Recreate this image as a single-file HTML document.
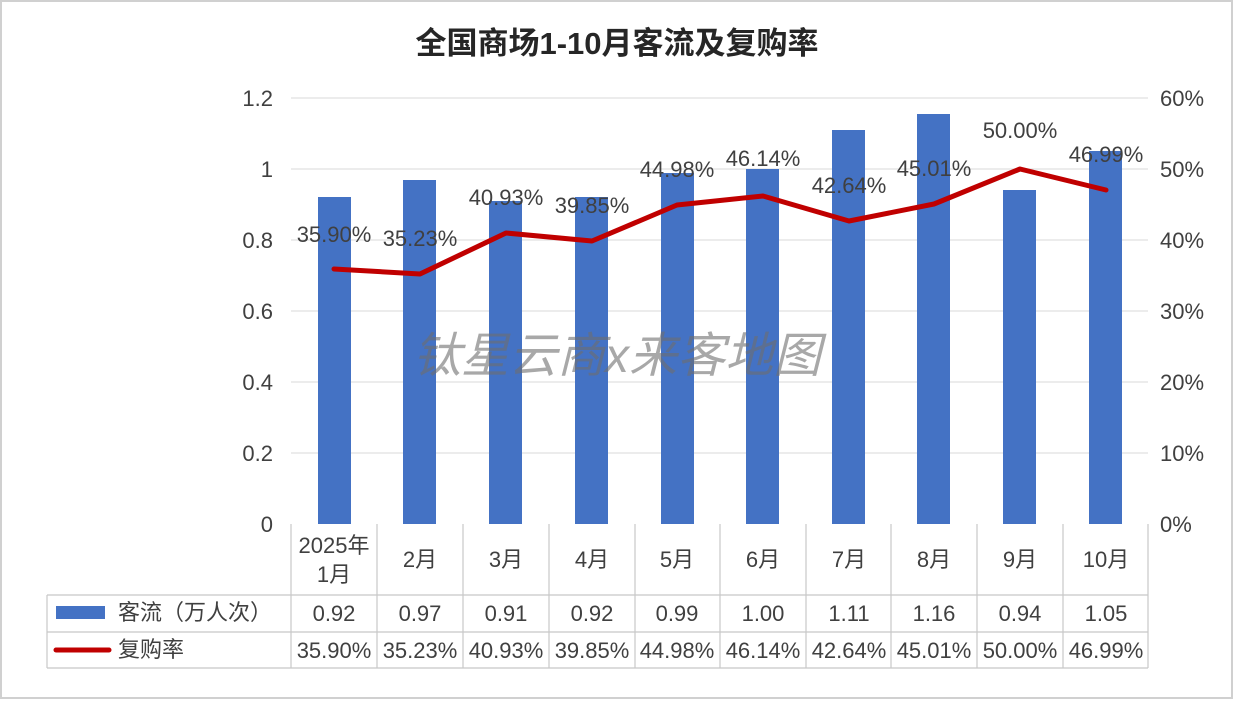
<!DOCTYPE html>
<html><head><meta charset="utf-8"><style>
html,body{margin:0;padding:0;background:#fff;}
svg{display:block;font-family:"Liberation Sans","Noto Sans CJK SC",sans-serif;}
</style></head><body>
<svg width="1234" height="702" viewBox="0 0 1234 702" xmlns="http://www.w3.org/2000/svg">
<rect x="1" y="1" width="1231" height="697" fill="#fff" stroke="#d0d0d0" stroke-width="2"/>
<text x="617" y="54" text-anchor="middle" font-size="31" font-weight="bold" fill="#262626">全国商场1-10月客流及复购率</text>
<g stroke="#e0e0e0" stroke-width="1.2">
<line x1="291" y1="98" x2="1148" y2="98"/>
<line x1="291" y1="169" x2="1148" y2="169"/>
<line x1="291" y1="240" x2="1148" y2="240"/>
<line x1="291" y1="311" x2="1148" y2="311"/>
<line x1="291" y1="382" x2="1148" y2="382"/>
<line x1="291" y1="453" x2="1148" y2="453"/>
</g>
<g font-size="22" fill="#404040" text-anchor="end">
<text x="273" y="106">1.2</text><text x="273" y="177">1</text><text x="273" y="248">0.8</text>
<text x="273" y="319">0.6</text><text x="273" y="390">0.4</text><text x="273" y="461">0.2</text><text x="273" y="532">0</text>
</g>
<g font-size="22" fill="#404040" text-anchor="start">
<text x="1160" y="106">60%</text><text x="1160" y="177">50%</text><text x="1160" y="248">40%</text>
<text x="1160" y="319">30%</text><text x="1160" y="390">20%</text><text x="1160" y="461">10%</text><text x="1160" y="532">0%</text>
</g>
<g fill="#4472C4">
<rect x="318" y="197" width="33" height="327"/>
<rect x="403" y="180" width="33" height="344"/>
<rect x="489" y="201" width="33" height="323"/>
<rect x="575" y="197" width="33" height="327"/>
<rect x="661" y="173" width="33" height="351"/>
<rect x="746" y="169" width="33" height="355"/>
<rect x="832" y="130" width="33" height="394"/>
<rect x="917" y="114" width="33" height="410"/>
<rect x="1003" y="190" width="33" height="334"/>
<rect x="1089" y="151" width="33" height="373"/>
</g>
<text x="617" y="372" text-anchor="middle" font-size="48" font-style="italic" fill="rgba(110,110,110,0.6)">钛星云商x来客地图</text>
<polyline fill="none" stroke="#C00000" stroke-width="5" stroke-linejoin="round" stroke-linecap="round"
points="334,269 420,274 506,233 592,241 677,205 763,196 849,221 934,204 1020,169 1106,190"/>
<g font-size="22" fill="#404040" text-anchor="middle">
<text x="334" y="242">35.90%</text><text x="420" y="246">35.23%</text><text x="506" y="205">40.93%</text>
<text x="592" y="213">39.85%</text><text x="677" y="177">44.98%</text><text x="763" y="166">46.14%</text>
<text x="849" y="193">42.64%</text><text x="934" y="176">45.01%</text><text x="1020" y="138">50.00%</text><text x="1106" y="162">46.99%</text>
</g>
<g stroke="#c8c8c8" stroke-width="1.2" fill="none">
<line x1="291" y1="524" x2="291" y2="668"/>
<line x1="47" y1="595" x2="1148" y2="595"/>
<line x1="47" y1="632" x2="1148" y2="632"/>
<line x1="47" y1="668" x2="1148" y2="668"/>
<line x1="47" y1="595" x2="47" y2="668"/>
<line x1="377" y1="524" x2="377" y2="668"/><line x1="463" y1="524" x2="463" y2="668"/>
<line x1="549" y1="524" x2="549" y2="668"/><line x1="635" y1="524" x2="635" y2="668"/>
<line x1="720" y1="524" x2="720" y2="668"/><line x1="806" y1="524" x2="806" y2="668"/>
<line x1="891" y1="524" x2="891" y2="668"/><line x1="977" y1="524" x2="977" y2="668"/>
<line x1="1063" y1="524" x2="1063" y2="668"/><line x1="1148" y1="524" x2="1148" y2="668"/>
</g>
<g font-size="22" fill="#404040" text-anchor="middle">
<text x="334" y="553">2025年</text><text x="334" y="582">1月</text>
<text x="420" y="567">2月</text><text x="506" y="567">3月</text><text x="592" y="567">4月</text>
<text x="677" y="567">5月</text><text x="763" y="567">6月</text><text x="849" y="567">7月</text>
<text x="934" y="567">8月</text><text x="1020" y="567">9月</text><text x="1106" y="567">10月</text>
<text x="334" y="621">0.92</text><text x="420" y="621">0.97</text><text x="506" y="621">0.91</text>
<text x="592" y="621">0.92</text><text x="677" y="621">0.99</text><text x="763" y="621">1.00</text>
<text x="849" y="621">1.11</text><text x="934" y="621">1.16</text><text x="1020" y="621">0.94</text><text x="1106" y="621">1.05</text>
<text x="334" y="658">35.90%</text><text x="420" y="658">35.23%</text><text x="506" y="658">40.93%</text>
<text x="592" y="658">39.85%</text><text x="677" y="658">44.98%</text><text x="763" y="658">46.14%</text>
<text x="849" y="658">42.64%</text><text x="934" y="658">45.01%</text><text x="1020" y="658">50.00%</text><text x="1106" y="658">46.99%</text>
</g>
<rect x="56" y="606" width="49" height="13" fill="#4472C4"/>
<line x1="56" y1="650" x2="109" y2="650" stroke="#C00000" stroke-width="5" stroke-linecap="round"/>
<g font-size="22" fill="#404040">
<text x="118" y="620">客流（万人次）</text>
<text x="118" y="657">复购率</text>
</g>
</svg>
</body></html>
